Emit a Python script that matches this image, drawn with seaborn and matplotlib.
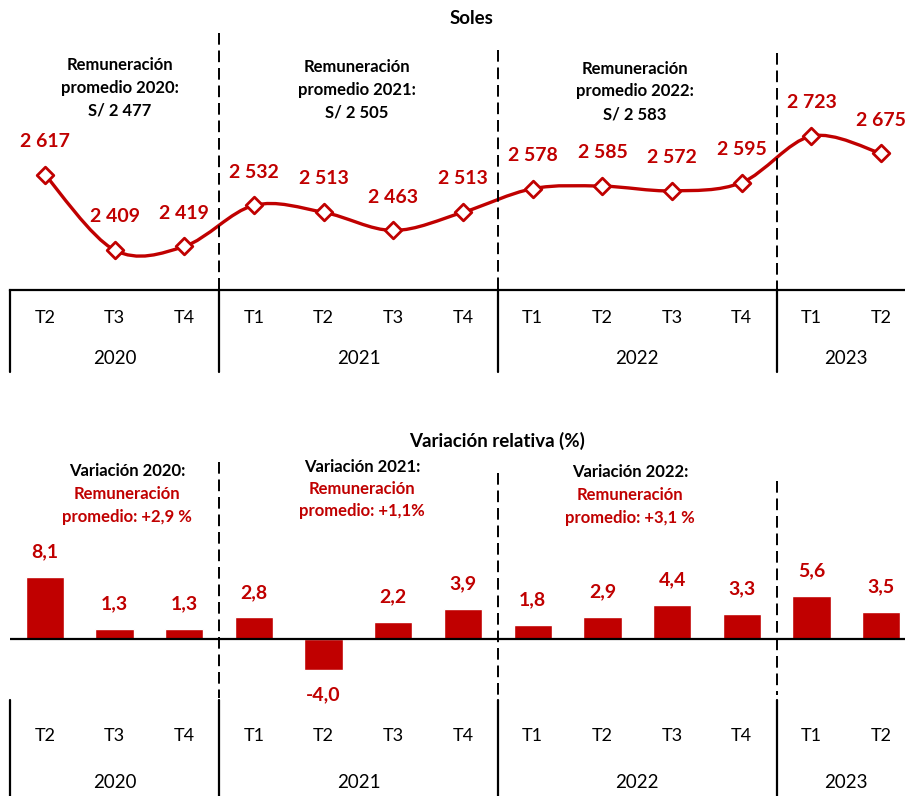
import numpy as np
import pandas as pd
import matplotlib.pyplot as plt
import seaborn as sns
from matplotlib.path import Path
from matplotlib.patches import PathPatch
from matplotlib.transforms import blended_transform_factory

sns.set_style('white')
plt.rcParams['font.family'] = ['Lato', 'DejaVu Sans']

# datos
years = ['2020', '2020', '2020', '2021', '2021', '2021', '2021',
         '2022', '2022', '2022', '2022', '2023', '2023']
quarters = ['T2', 'T3', 'T4', 'T1', 'T2', 'T3', 'T4',
            'T1', 'T2', 'T3', 'T4', 'T1', 'T2']
soles = [2617, 2409, 2419, 2532, 2513, 2463, 2513, 2578, 2585, 2572, 2595, 2723, 2675]
variacion = [8.1, 1.3, 1.3, 2.8, -4.0, 2.2, 3.9, 1.8, 2.9, 4.4, 3.3, 5.6, 3.5]

top_notes = [['Remuneración', 'promedio 2020:', 'S/ 2 477'],
             ['Remuneración', 'promedio 2021:', 'S/ 2 505'],
             ['Remuneración', 'promedio 2022:', 'S/ 2 583']]
bottom_heads = ['Variación 2020:', 'Variación 2021:', 'Variación 2022:']
bottom_notes = [['Remuneración', 'promedio: +2,9 %'],
                ['Remuneración', 'promedio: +1,1%'],
                ['Remuneración', 'promedio: +3,1 %']]

df = pd.DataFrame({'year': years, 'quarter': quarters, 'soles': soles, 'var': variacion})
df['periodo'] = df['quarter'] + ' ' + df['year']
df['pos'] = np.arange(len(df))

RED = '#C00000'
W, H = 905, 796
fig = plt.figure(figsize=(W / 100, H / 100), dpi=100)


def fy(py):
    return 1 - py / H


def add_axes(top, bottom):
    return fig.add_axes([10 / W, fy(bottom), 906 / W, (bottom - top) / H])


def fmt_miles(v):
    return f'{v:,.0f}'.replace(',', ' ')


year_pos = df.groupby('year')['pos'].agg(['min', 'max', 'mean'])
bounds = [-0.5] + list(year_pos['max'][:-1] + 0.5)


def draw_categories(ax, q_y, y_y, line_top, line_bottom):
    tr = blended_transform_factory(ax.transData, fig.transFigure)
    for p, q in zip(df['pos'], df['quarter']):
        ax.text(p, fy(q_y), q, transform=tr, ha='center', va='center',
                fontsize=13, color='black')
    for yr, row in year_pos.iterrows():
        ax.text(row['mean'], fy(y_y), yr, transform=tr, ha='center', va='center',
                fontsize=13.5, color='black')
    for b in bounds:
        ax.plot([b, b], [fy(line_top), fy(line_bottom)], transform=tr,
                color='black', lw=1.6, clip_on=False)


def draw_dashed(ax, spans):
    tr = blended_transform_factory(ax.transData, fig.transFigure)
    for b, (t0, t1) in zip(bounds[1:], spans):
        ax.plot([b, b], [fy(t0), fy(t1)], transform=tr, color='black',
                lw=1.4, ls=(0, (6, 3)), clip_on=False)


def write_lines(ax, xc, ys, lines, color):
    tr = blended_transform_factory(ax.transData, fig.transFigure)
    for yy, line in zip(ys, lines):
        ax.text(xc, fy(yy), line, transform=tr, ha='center', va='center',
                fontsize=12, fontweight='bold', color=color)


# ---------- grafico superior: soles ----------
ax1 = add_axes(30, 290)
x = df['pos'].to_numpy(float)
y = df['soles'].to_numpy(float)
pts = np.column_stack([x, y])
ext = np.vstack([pts[0], pts, pts[-1]])
verts = [pts[0]]
codes = [Path.MOVETO]
for i in range(len(pts) - 1):
    p0, p1, p2, p3 = ext[i], ext[i + 1], ext[i + 2], ext[i + 3]
    verts += [p1 + (p2 - p0) / 6, p2 - (p3 - p1) / 6, p2]
    codes += [Path.CURVE4] * 3
ax1.add_patch(PathPatch(Path(verts, codes), facecolor='none', edgecolor=RED,
                        lw=2.4, zorder=2, capstyle='round', joinstyle='round'))
sns.scatterplot(data=df, x='pos', y='soles', marker='D', s=72, color='white',
                edgecolor=RED, linewidth=2, zorder=3, ax=ax1, legend=False)
for p, v in zip(df['pos'], df['soles']):
    ax1.annotate(fmt_miles(v), (p, v), xytext=(0, 24), textcoords='offset points',
                 ha='center', va='center', fontsize=14, fontweight='bold',
                 color=RED, annotation_clip=False)

ax1.set_xlim(-0.5, 12.5)
ax1.set_ylim(2299, 3015)
ax1.set_xticks([])
ax1.set_yticks([])
ax1.set_xlabel('')
ax1.set_ylabel('')
for s in ['top', 'left', 'right']:
    ax1.spines[s].set_visible(False)
ax1.spines['bottom'].set_color('black')
ax1.spines['bottom'].set_linewidth(1.6)

draw_categories(ax1, 318, 358, 290, 372)
draw_dashed(ax1, [(33, 290), (50, 290), (53, 290)])

for xc, ys, lines in zip([1.08, 4.48, 8.47],
                         [(65, 88, 110), (67, 90, 113), (69, 91, 114)], top_notes):
    write_lines(ax1, xc, ys, lines, 'black')
fig.text(471 / W, fy(18), 'Soles', ha='center', va='center',
         fontsize=13.5, fontweight='bold', color='black')

# ---------- grafico inferior: variacion ----------
ax2 = add_axes(455, 700)
sns.barplot(data=df, x='periodo', y='var', order=df['periodo'], color=RED,
            width=0.55, saturation=1, ax=ax2)
for p, v in zip(df['pos'], df['var']):
    off = 18 if v >= 0 else -18
    ax2.annotate(f'{v:.1f}'.replace('.', ','), (p, v), xytext=(0, off),
                 textcoords='offset points', ha='center', va='center',
                 fontsize=14, fontweight='bold', color=RED)
ax2.axhline(0, color='black', lw=1.6, zorder=3)
ax2.set_xlim(-0.5, 12.5)
ax2.set_ylim(-7.93, 23.9)
ax2.set_xticks([])
ax2.set_yticks([])
ax2.set_xlabel('')
ax2.set_ylabel('')
for s in ax2.spines.values():
    s.set_visible(False)

draw_categories(ax2, 736, 783, 700, 796)
draw_dashed(ax2, [(462, 698), (473, 705), (481, 695)])

for xc, ys, head, lines in zip([1.18, 4.55, 8.4],
                               [(471, 494, 517), (467, 489, 511), (472, 495, 518)],
                               bottom_heads, bottom_notes):
    write_lines(ax2, xc, ys[:1], [head], 'black')
    write_lines(ax2, xc, ys[1:], lines, RED)
fig.text(497 / W, fy(441), 'Variación relativa (%)', ha='center', va='center',
         fontsize=13.5, fontweight='bold', color='black')

fig.savefig('out.png', dpi=100)
